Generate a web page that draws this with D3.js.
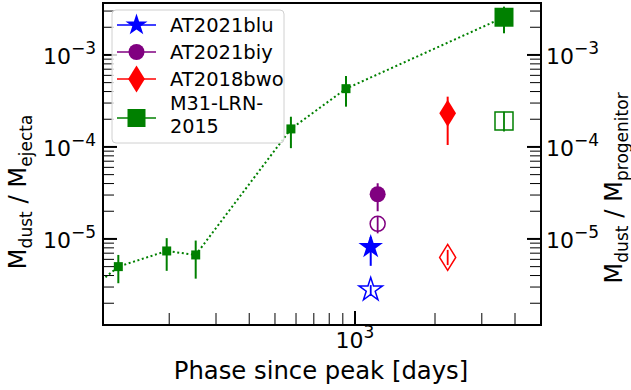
<!DOCTYPE html>
<html>
<head>
<meta charset="utf-8">
<script src="https://cdn.jsdelivr.net/npm/d3@7"></script>
<style>
html,body{margin:0;padding:0;background:#fff;}
svg{display:block;font-family:"DejaVu Sans",sans-serif;}
</style>
</head>
<body>
<svg id="chart" width="631" height="390"></svg>
<script>
// ---- data ----
const m31Phase = [128.7, 195.7, 251.6, 574, 925, 3636];
const m31Value = [5.0e-6, 7.4e-6, 6.7e-6, 1.57e-4, 4.3e-4, 2.57e-3];
const m31Lo    = [3.3e-6, 4.5e-6, 3.7e-6, 9.7e-5, 2.74e-4, 1.72e-3];
const m31Hi    = [6.7e-6, 1.02e-5, 9.6e-6, 2.13e-4, 5.9e-4, 3.35e-3];
const m31LinePhase = [105, 128.7, 195.7, 251.6, 574, 925, 3636];
const m31LineValue = [3.07e-6, 5.0e-6, 7.4e-6, 6.7e-6, 1.57e-4, 4.3e-4, 2.57e-3];

const objNames  = ["AT2021blu", "AT2021biy", "AT2018bwo", "M31-LRN-2015"];
const objColors = ["#0000ff", "#800080", "#ff0000", "#008000"];
const objShapes = ["star", "circle", "diamond", "square"];

// filled = M_dust/M_ejecta (left axis), open = M_dust/M_progenitor (right axis)
const filledPhase = [1146, 1217, 2232];
const filledValue = [8.2e-6, 3.06e-5, 2.32e-4];
const filledLo    = [5.1e-6, 2.0e-5, 1.05e-4];
const filledHi    = [1.05e-5, 4.03e-5, 3.52e-4];

const openPhase = [1146, 1217, 2232, 3636];
const openValue = [2.8e-6, 1.46e-5, 6.3e-6, 1.92e-4];
const openLo    = [2.4e-6, 1.15e-5, 5.2e-6, 1.47e-4];
const openHi    = [3.15e-6, 1.75e-5, 7.6e-6, 2.42e-4];

const xDomain = [112.7, 5010];
const yDomain = [1.16e-6, 3.67e-3];
const xMajorTicks = [1000];
const yMajorTicks = [1e-5, 1e-4, 1e-3];

// ---- layout ----
const L = 103, R = 541, T = 3, B = 325;
const svg = d3.select("#chart");
const x = d3.scaleLog().domain(xDomain).range([L, R]);
const y = d3.scaleLog().domain(yDomain).range([B, T]);

const markerSize = {star: 24.5, circle: 16, diamond: 27, square: 19};
function shapePath(shape, s) {
  if (shape === "star") {
    const R0 = s / 1.902;
    return d3.symbol().type(d3.symbolStar).size(R0 * R0 / 0.8908130915292852)();
  }
  if (shape === "circle") { return d3.symbol().type(d3.symbolCircle).size(Math.PI * (s/2) * (s/2))(); }
  if (shape === "diamond") { const h = s/2, w = s*0.31; return `M0,${-h}L${w},0L0,${h}L${-w},0Z`; }
  if (shape === "square") { const h = s/2; return `M${-h},${-h}H${h}V${h}H${-h}Z`; }
}

svg.append("defs").append("clipPath").attr("id", "clip")
  .append("rect").attr("x", L).attr("y", T).attr("width", R - L).attr("height", B - T);

const plot = svg.append("g").attr("clip-path", "url(#clip)");

// dotted M31 line
const line = d3.line().x(d => x(d[0])).y(d => y(d[1]));
plot.append("path")
  .datum(m31LinePhase.map((p, i) => [p, m31LineValue[i]]))
  .attr("d", line).attr("fill", "none").attr("stroke", "#008000")
  .attr("stroke-width", 2).attr("stroke-dasharray", "2,2.6");

// M31 points
m31Phase.forEach((p, i) => {
  const last = i === m31Phase.length - 1;
  plot.append("line").attr("x1", x(p)).attr("x2", x(p))
    .attr("y1", y(m31Lo[i])).attr("y2", y(m31Hi[i]))
    .attr("stroke", "#008000").attr("stroke-width", 2);
  plot.append("path").attr("d", shapePath("square", last ? 19 : 9))
    .attr("transform", `translate(${x(p)},${y(m31Value[i])})`)
    .attr("fill", "#008000");
});

// filled markers
filledPhase.forEach((p, i) => {
  plot.append("line").attr("x1", x(p)).attr("x2", x(p))
    .attr("y1", y(filledLo[i])).attr("y2", y(filledHi[i]))
    .attr("stroke", objColors[i]).attr("stroke-width", 2);
  plot.append("path").attr("d", shapePath(objShapes[i], markerSize[objShapes[i]]))
    .attr("transform", `translate(${x(p)},${y(filledValue[i])})`)
    .attr("fill", objColors[i]);
});

// open markers
openPhase.forEach((p, i) => {
  plot.append("line").attr("x1", x(p)).attr("x2", x(p))
    .attr("y1", y(openLo[i])).attr("y2", y(openHi[i]))
    .attr("stroke", objColors[i]).attr("stroke-width", 1.8);
  plot.append("path").attr("d", shapePath(objShapes[i], markerSize[objShapes[i]] - 1))
    .attr("transform", `translate(${x(p)},${y(openValue[i])})`)
    .attr("fill", "none").attr("stroke", objColors[i]).attr("stroke-width", 1.5);
});

// ---- axes ----
function minorLog(domain) {
  const out = [];
  for (let e = -7; e <= 4; e++) for (let m = 1; m <= 9; m++) {
    const v = m * Math.pow(10, e);
    if (v >= domain[0] && v <= domain[1]) out.push(v);
  }
  return out;
}
const xMinor = minorLog(xDomain).filter(v => !xMajorTicks.includes(v) && x(v) < R - 1);
const yMinor = minorLog(yDomain).filter(v => !yMajorTicks.some(t => Math.abs(t - v) / v < 1e-9));

const axes = svg.append("g");
xMinor.forEach(v => axes.append("line").attr("x1", x(v)).attr("x2", x(v)).attr("y1", B).attr("y2", B - 12).attr("stroke", "#000").attr("stroke-width", 1));
xMajorTicks.forEach(v => axes.append("line").attr("x1", x(v)).attr("x2", x(v)).attr("y1", B).attr("y2", B - 14).attr("stroke", "#000").attr("stroke-width", 2));
[[L, 1], [R, -1]].forEach(([sx, dir]) => {
  yMinor.forEach(v => axes.append("line").attr("x1", sx).attr("x2", sx + dir * 11).attr("y1", y(v)).attr("y2", y(v)).attr("stroke", "#000").attr("stroke-width", 1));
  yMajorTicks.forEach(v => axes.append("line").attr("x1", sx).attr("x2", sx + dir * 14).attr("y1", y(v)).attr("y2", y(v)).attr("stroke", "#000").attr("stroke-width", 2));
});
axes.append("rect").attr("x", L).attr("y", T).attr("width", R - L).attr("height", B - T)
  .attr("fill", "none").attr("stroke", "#000").attr("stroke-width", 2);

function powLabel(g, px, py, anchor, exp) {
  const t = g.append("text").attr("x", px).attr("y", py).attr("text-anchor", anchor)
    .attr("font-size", 22).attr("fill", "#000");
  t.append("tspan").text("10");
  t.append("tspan").attr("font-size", 17).attr("dy", -10).text(exp);
}
xMajorTicks.forEach(v => powLabel(svg, x(v), B + 23, "middle", String(Math.round(Math.log10(v)))));
yMajorTicks.forEach(v => {
  const e = "\u2212" + String(-Math.round(Math.log10(v)));
  powLabel(svg, L - 7, y(v) + 9, "end", e);
  powLabel(svg, R + 5, y(v) + 9, "start", e);
});

// axis titles
svg.append("text").attr("x", 321).attr("y", 379).attr("text-anchor", "middle")
  .attr("font-size", 24.3).text("Phase since peak [days]");

function yTitle(px, py, sub2) {
  const t = svg.append("text").attr("transform", `translate(${px},${py}) rotate(-90)`)
    .attr("text-anchor", "middle").attr("font-size", 24.3);
  t.append("tspan").text("M");
  t.append("tspan").attr("font-size", 17).attr("dy", 5.5).text("dust");
  t.append("tspan").attr("dy", -5.5).text(" / M");
  t.append("tspan").attr("font-size", 17).attr("dy", 5.5).text(sub2);
}
yTitle(26, 192, "ejecta");
yTitle(622, 188, "progenitor");

// ---- legend ----
const lg = svg.append("g");
lg.append("rect").attr("x", 112).attr("y", 10).attr("width", 172).attr("height", 133)
  .attr("rx", 4).attr("fill", "#fff").attr("fill-opacity", 0.8)
  .attr("stroke", "#d0d0d0").attr("stroke-width", 1);
const rowY = [25, 52, 79, 118];
const legendMarker = {star: 22, circle: 16, diamond: 27, square: 18};
objNames.forEach((n, i) => {
  const cy = rowY[i];
  lg.append("line").attr("x1", 117).attr("x2", 156).attr("y1", cy).attr("y2", cy)
    .attr("stroke", objColors[i]).attr("stroke-width", 1.6);
  lg.append("path").attr("d", shapePath(objShapes[i], legendMarker[objShapes[i]]))
    .attr("transform", `translate(136.5,${cy})`).attr("fill", objColors[i]);
  if (n === "M31-LRN-2015") {
    lg.append("text").attr("x", 170).attr("y", 110.4).attr("font-size", 19.2).text("M31-LRN-");
    lg.append("text").attr("x", 170).attr("y", 133).attr("font-size", 19.2).text("2015");
  } else {
    lg.append("text").attr("x", 170).attr("y", cy + 7).attr("font-size", 19.5).text(n);
  }
});
</script>
</body>
</html>
